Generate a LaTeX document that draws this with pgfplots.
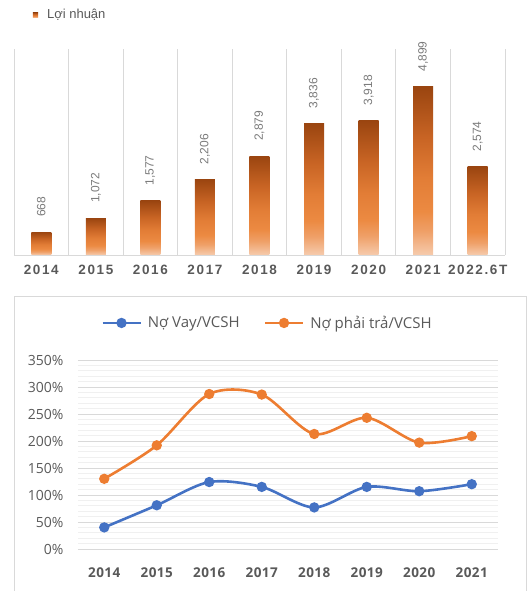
\documentclass[border=0pt]{standalone}
\usepackage{pgfplots}
\pgfplotsset{compat=1.18}
\usepackage{fontspec}
\setmainfont{Liberation Sans}
\newfontfamily\osans{Open Sans}
\newfontfamily\spaced[LetterSpace=12]{Liberation Sans}
\newfontfamily\ospaced[LetterSpace=3]{Open Sans}
\definecolor{barMid}{HTML}{E47A30}
\definecolor{sA}{HTML}{F6CBAD}
\definecolor{sB}{HTML}{EFA068}
\definecolor{sC}{HTML}{EC8A42}
\definecolor{sD}{HTML}{E27D36}
\definecolor{sE}{HTML}{C86424}
\definecolor{sF}{HTML}{9A4510}
\pgfdeclareverticalshading{barshade}{100bp}{color(0bp)=(sA); color(25bp)=(sA); color(32bp)=(sB); color(38bp)=(sC); color(48bp)=(sD); color(60bp)=(sE); color(75bp)=(sF); color(100bp)=(sF)}
\definecolor{txtGray}{HTML}{595959}
\definecolor{valGray}{HTML}{7A7A7A}
\definecolor{gridGray}{HTML}{D9D9D9}
\definecolor{minorGray}{HTML}{F0F0F0}
\definecolor{lineBlue}{HTML}{4472C4}
\definecolor{lineOrange}{HTML}{ED7D31}
\pgfplotsset{mybar/.style={draw=none, shading=barshade, shade, bar shift=0pt, forget plot}}
\begin{document}
\begin{tikzpicture}[x=1pt,y=1pt]
\useasboundingbox (0,0) rectangle (530,591);
\draw[gridGray, line width=0.9pt] (14,-5) -- (14,295) -- (526,295) -- (526,-5);
% ---------- top bar chart ----------
\begin{axis}[
  at={(14pt,336pt)}, anchor=south west,
  scale only axis, width=491pt, height=206pt,
  xmin=-0.5, xmax=8.5, ymin=0, ymax=6000,
  axis x line*=bottom, axis y line=none,
  x axis line style={draw=gridGray, line width=0.8pt},
  xtick={0,...,8},
  xticklabels={2014,2015,2016,2017,2018,2019,2020,2021,2022.6T},
  major tick length=0pt, minor tick length=0pt,
  minor xtick={-0.5,0.5,...,8.5},
  xminorgrids, minor grid style={draw=gridGray, line width=0.8pt},
  xticklabel style={font=\spaced\bfseries\fontsize{13.5}{14}\selectfont, text=txtGray, yshift=-7pt},
  ytick=\empty,
  ybar, bar width=20pt, bar shift=0pt,
  clip=false,
  /pgf/number format/.cd, 1000 sep={,}, assume math mode=true,
  /pgfplots/.cd,
  nodes near coords,
  every node near coord/.append style={rotate=90, anchor=west, inner sep=0pt, xshift=15pt,
     font=\fontsize{12}{12}\selectfont, text=valGray},
  legend style={at={(0.038,1.165)}, anchor=west, draw=none, fill=none,
     font=\fontsize{13}{13}\selectfont, text=txtGray, inner sep=0pt,
     /tikz/every odd column/.append style={column sep=7pt}},
]
\addplot[draw=none, shading=barshade, shade, bar shift=0pt,
  legend image code/.code={\fill[barMid] (0pt,-2.6pt) rectangle (5.2pt,2.6pt);}]
  coordinates {(0,668)};
\addlegendentry{Lợi nhuận}
\addplot[mybar] coordinates {(1,1072)};
\addplot[mybar] coordinates {(2,1577)};
\addplot[mybar] coordinates {(3,2206)};
\addplot[mybar] coordinates {(4,2879)};
\addplot[mybar] coordinates {(5,3836)};
\addplot[mybar] coordinates {(6,3918)};
\addplot[mybar] coordinates {(7,4899)};
\addplot[mybar] coordinates {(8,2574)};
\end{axis}
% ---------- bottom line chart ----------
\begin{axis}[
  at={(78pt,42pt)}, anchor=south west,
  scale only axis, width=420pt, height=189pt,
  xmin=-0.5, xmax=7.5, ymin=0, ymax=350,
  axis line style={draw=none}, tick style={draw=none},
  major tick length=0pt, minor tick length=0pt,
  xtick={0,...,7},
  xticklabels={2014,2015,2016,2017,2018,2019,2020,2021},
  ytick={0,50,...,350},
  minor ytick={0,10,...,350},
  ymajorgrids, yminorgrids,
  major grid style={draw=gridGray, line width=0.8pt},
  minor grid style={draw=minorGray, line width=0.7pt},
  yticklabel={\pgfmathprintnumber[assume math mode=true]{\tick}\%},
  yticklabel style={font=\osans\fontsize{14}{14}\selectfont, text=txtGray, xshift=-11pt},
  xticklabel style={font=\ospaced\bfseries\fontsize{13.5}{14}\selectfont, text=txtGray, yshift=-15pt},
  clip=false,
  legend columns=2,
  legend style={at={(0.451,1.196)}, anchor=center, draw=none, fill=none,
     font=\osans\fontsize{15}{15}\selectfont, text=txtGray,
     /tikz/every odd column/.append style={column sep=4pt},
     /tikz/every even column/.append style={column sep=22pt}},
  legend image code/.code={\draw[mark repeat=2, mark phase=2] plot coordinates {(0pt,0pt) (19pt,0pt) (38pt,0pt)};},
]
\addplot[lineBlue, line width=2.6pt, smooth, tension=0.5, mark=*, mark size=3.8pt]
  coordinates {(0,40) (1,81) (2,124) (3,115) (4,77) (5,115) (6,107) (7,120)};
\addlegendentry{Nợ Vay/VCSH}
\addplot[lineOrange, line width=2.6pt, smooth, tension=0.5, mark=*, mark size=3.8pt]
  coordinates {(0,130) (1,192) (2,287) (3,286) (4,213) (5,243) (6,197) (7,209)};
\addlegendentry{Nợ phải trả/VCSH}
\end{axis}
\end{tikzpicture}
\end{document}
